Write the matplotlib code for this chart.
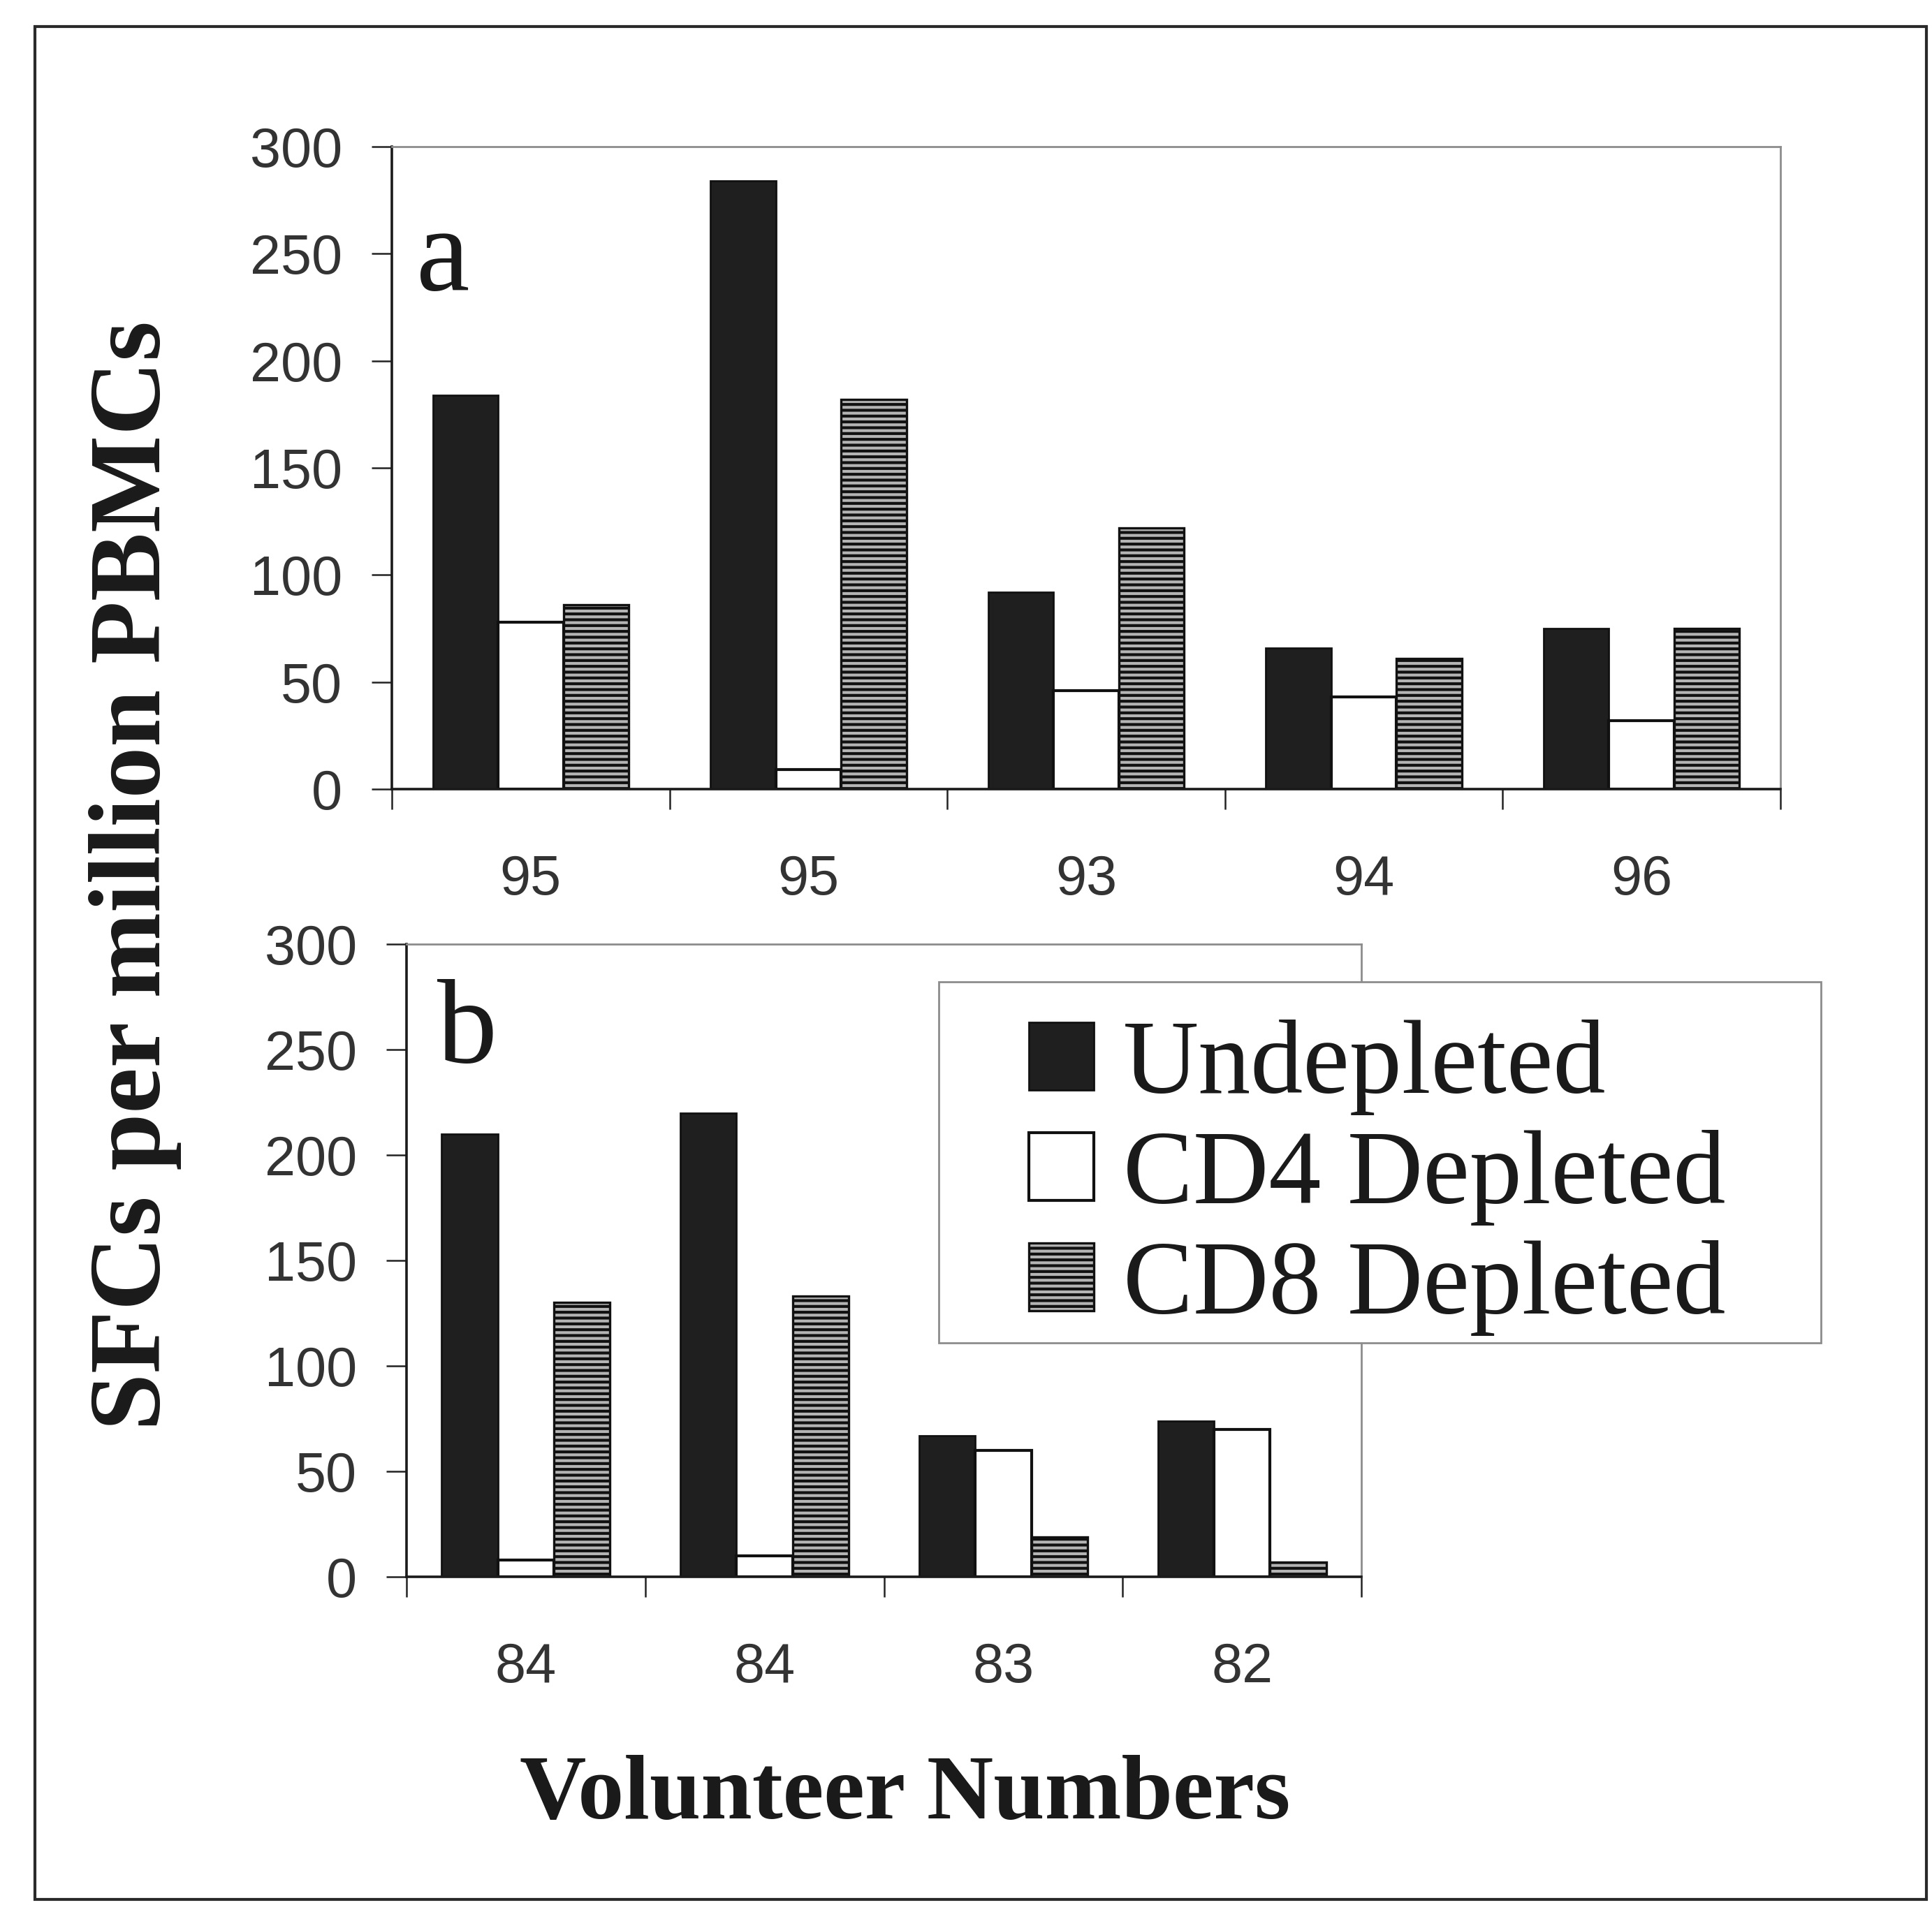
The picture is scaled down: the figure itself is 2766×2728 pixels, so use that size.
import numpy as np
import matplotlib
matplotlib.use("Agg")
import matplotlib.pyplot as plt
from matplotlib.patches import Rectangle

# ---- data ----
series = ["Undepleted", "CD4 Depleted", "CD8 Depleted"]
labels_a = ["95", "95", "93", "94", "96"]
undepleted_a = [184, 284, 92, 66, 75]
cd4_a = [78, 9, 46, 43, 32]
cd8_a = [86, 182, 122, 61, 75]

labels_b = ["84", "84", "83", "82"]
undepleted_b = [210, 220, 67, 74]
cd4_b = [8, 10, 60, 70]
cd8_b = [130, 133, 19, 7]

yticks = [0, 50, 100, 150, 200, 250, 300]

W, H = 2766, 2728
DPI = 100
plt.rcParams['hatch.linewidth'] = 3.0
fig = plt.figure(figsize=(W / DPI, H / DPI), dpi=DPI)
fig.patch.set_facecolor("white")

SERIF = ["Liberation Serif", "DejaVu Serif"]
SANS = ["Liberation Sans", "DejaVu Sans"]

styles = [
    dict(facecolor="#1f1f1f", edgecolor="#111111", linewidth=2.0),
    dict(facecolor="white", edgecolor="#111111", linewidth=3.0),
    dict(facecolor="#b4b4b4", edgecolor="#111111", linewidth=2.4, hatch="--"),
]


def panel(rect, labels, vals):
    ax = fig.add_axes(rect)
    n = len(labels)
    x = np.arange(n)
    w = 0.235
    handles = []
    for i, (v, st) in enumerate(zip(vals, styles)):
        h = ax.bar(x + (i - 1) * w, v, width=w, label=series[i], **st)
        handles.append(h)
    ax.set_xlim(-0.5, n - 0.5)
    ax.set_ylim(0, 300)
    ax.set_yticks(yticks)
    ax.set_yticklabels([str(t) for t in yticks], family=SANS, fontsize=57, color="#333333")
    ax.set_xticks(x)
    ax.set_xticklabels(labels, family=SANS, fontsize=57, color="#333333")
    ax.set_xticks(np.arange(n + 1) - 0.5, minor=True)
    ax.tick_params(axis="x", which="major", length=0, pad=67)
    ax.tick_params(axis="x", which="minor", length=21, width=1.8, direction="out", color="#222222")
    ax.tick_params(axis="y", which="major", length=21, width=1.8, direction="out", pad=30, color="#222222")
    for s in ["left", "bottom"]:
        ax.spines[s].set_color("#1a1a1a")
        ax.spines[s].set_linewidth(2.6)
    for s in ["top", "right"]:
        ax.spines[s].set_color("#8c8c8c")
        ax.spines[s].set_linewidth(2.0)
    ax.set_facecolor("white")
    return ax, handles


ax_a, hs = panel([561 / W, 1 - 1130 / H, (2549 - 561) / W, 920 / H], labels_a,
                 [undepleted_a, cd4_a, cd8_a])
ax_b, hs_b = panel([582 / W, 1 - 2258 / H, (1949 - 582) / W, 906 / H], labels_b,
                   [undepleted_b, cd4_b, cd8_b])

# panel letters
fig.text(596 / W, 1 - 415 / H, "a", family=SERIF, fontsize=124, ha="left", va="baseline", color="#1a1a1a")
fig.text(626 / W, 1 - 1521 / H, "b", family=SERIF, fontsize=124, ha="left", va="baseline", color="#1a1a1a")

# axis titles
fig.text(194 / W, 1 - 1254 / H, "SFCs per million PBMCs", family=SERIF, fontweight="bold",
         fontsize=106, rotation=90, ha="center", va="center", color="#1a1a1a")
fig.text(1296 / W, 1 - 2572 / H, "Volunteer Numbers", family=SERIF, fontweight="bold",
         fontsize=95, ha="center", va="center", color="#1a1a1a")

# legend frame
fig.patches.append(Rectangle((1344 / W, 1 - 1923 / H), (2607 - 1344) / W, (1923 - 1406) / H,
                             transform=fig.transFigure, facecolor="white", edgecolor="#8c8c8c",
                             linewidth=2.0, zorder=5))
leg = fig.legend(handles=hs, labels=series, loc="upper left",
                 bbox_to_anchor=(1473 / W, 1 - 1460 / H), bbox_transform=fig.transFigure,
                 frameon=False, borderpad=0, borderaxespad=0,
                 prop=dict(family=SERIF, size=108),
                 handlelength=0.62, handleheight=0.62, handletextpad=0.28, labelspacing=0.14)
leg.set_zorder(6)
for t in leg.get_texts():
    t.set_color("#1a1a1a")

# outer frame
fig.patches.append(Rectangle((50 / W, 1 - 2720 / H), (2758 - 50) / W, (2720 - 38) / H,
                             transform=fig.transFigure, facecolor="none", edgecolor="#2a2a2a",
                             linewidth=3.0, zorder=1))

fig.savefig("out.png", dpi=DPI, facecolor="white")
